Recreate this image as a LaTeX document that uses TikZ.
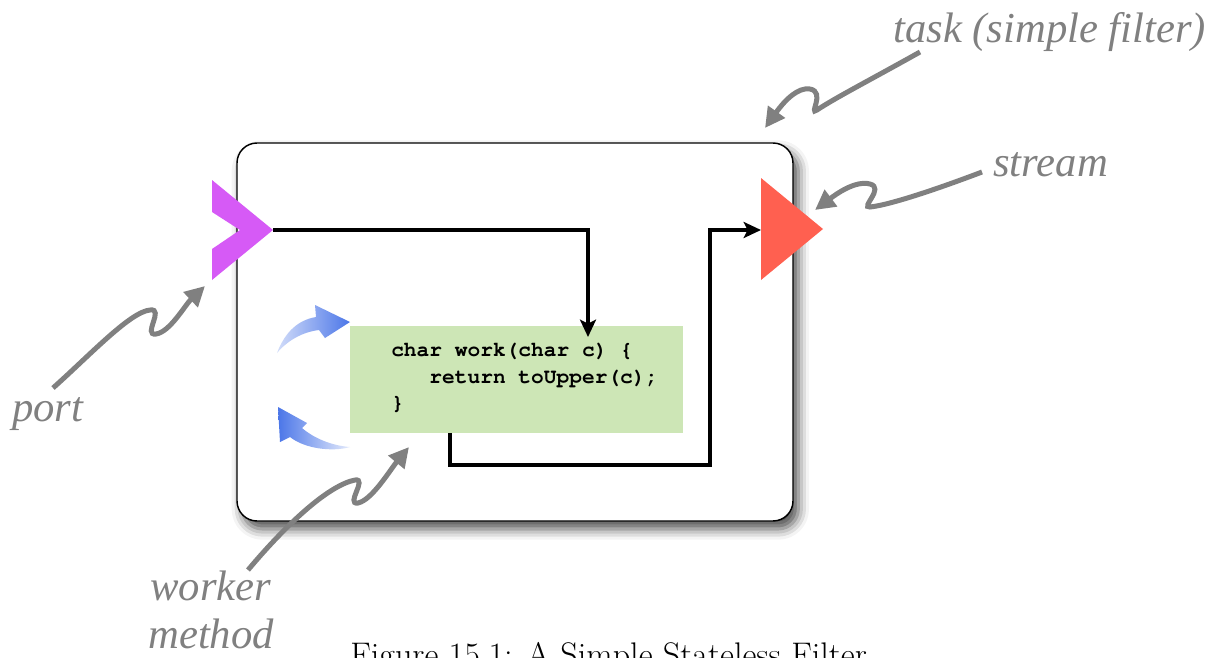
\documentclass[tikz,border=0pt]{standalone}
\usepackage{fontspec}
\newfontfamily\notefont{Liberation Serif}
\newcommand\codefont{\fontencoding{T1}\fontfamily{pcr}\selectfont}
\usetikzlibrary{arrows.meta,shadows.blur}
\definecolor{portc}{RGB}{214,90,246}
\definecolor{streamc}{RGB}{255,96,80}
\definecolor{workc}{RGB}{205,230,182}
\definecolor{notec}{RGB}{128,128,128}
\definecolor{spin}{RGB}{75,118,232}
\begin{document}
\begin{tikzpicture}[x=0.75pt,y=-0.75pt,
  note/.style={font=\notefont\itshape\fontsize{32}{36}\selectfont, text=notec, anchor=base west, inner sep=0pt},
  pointer/.style={draw=notec, line width=3.75pt, -{Triangle[length=15pt,width=15pt]}},
  flow/.style={draw=black, line width=3pt, -{Stealth[length=13pt,width=12pt,inset=3pt]}},
  codeline/.style={font=\codefont\bfseries\fontsize{15.9}{20}\selectfont, anchor=base west, inner sep=0pt},
  taskbox/.style={draw, line width=1.1pt, rounded corners=15pt, fill=white, inner sep=0pt,
    minimum width=417pt, minimum height=283.5pt,
    blur shadow={shadow xshift=4pt, shadow yshift=-6pt, shadow blur radius=8pt, shadow opacity=70}},
  workbox/.style={fill=workc, inner sep=0pt, minimum width=249.75pt, minimum height=80.25pt},
]
\useasboundingbox (0,0) rectangle (1221,657);
\clip (0,0) rectangle (1221,657);

% the filter task
\node[taskbox] (task) at (515,332) {};

% worker method
\node[workbox] (worker) at (516.5,379.5) {};
\node[codeline] (code1) at (391,356) {char work(char c) \{};
\node[codeline] (code2) at (391,383) {\ \ \ return toUpper(c);};
\node[codeline] (code3) at (391,409) {\}};

% connector ends
\coordinate (porttip) at (273,230);
\coordinate (workin) at (588,337);
\coordinate (workout) at (450,433);
\coordinate (turn) at (710,465);
\coordinate (streamin) at (761,230);

% data flow
\draw[flow] (porttip) -| (workin);
\draw[flow] (workout) |- (turn) |- (streamin);

% input port and output stream
\fill[portc] (212,180) -- (porttip) -- (212,280) -- (212,249) -- (240,230) -- (212,212) -- cycle;
\fill[streamc] (761,178) -- (823,229) -- (761,280) -- cycle;

% repeated invocation of the worker
\shade[left color=spin!25, right color=spin] (277,353) .. controls (285,332) and (298,320) .. (316,317)
  -- (315,305) -- (350,322) -- (325,338) -- (319,330) .. controls (302,332) and (287,341) .. (277,353) -- cycle;
\shade[left color=spin, right color=spin!15] (278,407) -- (307,423) -- (302,428)
  .. controls (316,440) and (335,446) .. (350,447) .. controls (333,452) and (305,449) .. (290,437)
  -- (280,442) -- cycle;

% annotations
\node[note] (tasklbl) at (893,42) {task (simple filter)};
\node[note] (streamlbl) at (993,176) {stream};
\node[note] (portlbl) at (12,421) {port};
\node[note] (workerlbl) at (150,600) {worker};
\node[note] (methodlbl) at (148,648) {method};

\coordinate (taskfrom) at (920,52);
\coordinate (taskto) at (765,128);
\coordinate (streamfrom) at (982,172);
\coordinate (streamto) at (815,210);
\coordinate (portfrom) at (53,388);
\coordinate (portto) at (205,286);
\coordinate (workerfrom) at (248,570);
\coordinate (workerto) at (409,447);

\draw[pointer] (taskfrom) .. controls (870,80) and (835,98) .. (817,110)
  .. controls (808,116) and (826,92) .. (810,89) .. controls (798,87) and (785,100) .. (taskto);
\draw[pointer] (streamfrom) .. controls (940,188) and (890,205) .. (870,207)
  .. controls (860,208) and (885,188) .. (870,184) .. controls (855,180) and (835,195) .. (streamto);
\draw[pointer] (portfrom) .. controls (90,355) and (130,312) .. (150,310)
  .. controls (165,308) and (142,336) .. (156,334) .. controls (170,332) and (185,305) .. (portto);
\draw[pointer] (workerfrom) .. controls (290,520) and (330,485) .. (355,480)
  .. controls (368,478) and (345,505) .. (358,503) .. controls (372,500) and (390,470) .. (workerto);

% caption
\node[font=\fontsize{25.6}{30}\selectfont, anchor=base west, inner sep=0pt] (caption) at (350,666)
  {Figure 15.1: A Simple Stateless Filter};
\end{tikzpicture}
\end{document}
